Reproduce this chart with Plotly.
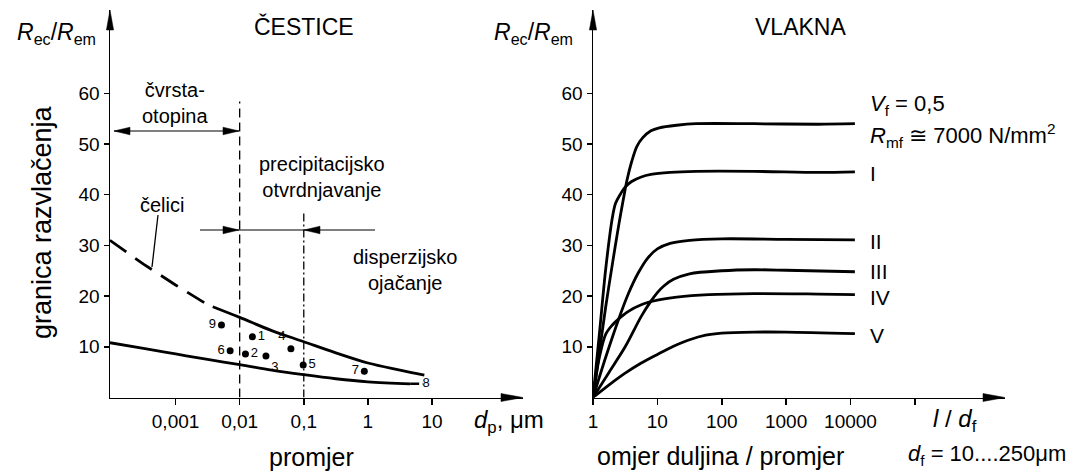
import plotly.graph_objects as go

W, H = 1082, 472

# ---------------- left panel data (ČESTICE) ----------------
celici_dash_dp = [0.0000947, 0.000316, 0.001, 0.00316, 0.0038]
celici_dash_r = [31.0, 26.3, 22.2, 18.3, 17.9]
celici_dp = [0.0038, 0.01, 0.0316, 0.1, 0.316, 1.0, 3.16, 7.6]
celici_r = [17.9, 15.8, 13.2, 11.0, 8.8, 6.8, 5.4, 4.4]
lower_dp = [0.0000947, 0.000316, 0.001, 0.00316, 0.01, 0.0316, 0.1, 0.316, 1.0, 4.57]
lower_r = [10.8, 9.7, 8.6, 7.5, 6.5, 5.4, 4.5, 3.7, 3.1, 2.7]
tail_dp = [4.57, 7.1]
tail_r = [2.7, 2.7]
point_labels = ["1", "2", "3", "4", "5", "6", "7", "9"]
point_dp = [0.0158, 0.0123, 0.0257, 0.063, 0.098, 0.0071, 0.88, 0.0052]
point_r = [12.0, 8.6, 8.2, 9.6, 6.4, 9.2, 5.2, 14.3]
point8_dp = [5.25]
point8_r = [-0.5]
boundary_dp = [0.01, 0.1]
boundary_top = [58.4, 36.9]
left_tickvals = [0.001, 0.01, 0.1, 1, 10]
left_ticktext = ["0,001", "0,01", "0,1", "1", "10"]

# ---------------- right panel data (VLAKNA) ----------------
ld_top = [1, 1.26, 1.58, 2.04, 2.51, 2.95, 3.39, 3.98, 4.79, 5.89, 7.94, 10.7, 20, 39.8, 316, 3160, 11700]
r_top = [0, 9, 18, 27, 34, 39, 43, 46.5, 49.5, 51.2, 52.6, 53.2, 53.7, 54.0, 54.0, 53.9, 54.0]
ld_I = [1, 1.26, 1.58, 2.0, 2.24, 2.63, 3.16, 3.98, 5.62, 7.94, 15.8, 39.8, 316, 3160, 11700]
r_I = [0, 12.7, 25.5, 35.5, 38.3, 40.0, 41.5, 42.6, 43.5, 44.0, 44.4, 44.6, 44.6, 44.4, 44.5]
ld_II = [1, 1.58, 2.51, 3.55, 5.01, 7.08, 10, 15.8, 31.6, 100, 1000, 11700]
r_II = [0, 8, 15.5, 20.5, 24.5, 27.5, 29.3, 30.4, 31.0, 31.3, 31.2, 31.1]
ld_III = [1, 1.78, 3.16, 5.62, 7.94, 10, 12.6, 17.8, 31.6, 100, 316, 1000, 11700]
r_III = [0, 5, 10, 16, 19, 20.7, 22, 23.3, 24.4, 25.0, 25.2, 25.1, 24.8]
ld_IV = [1, 1.26, 1.58, 2.0, 2.51, 3.55, 5.62, 10, 20, 63.1, 316, 3160, 11700]
r_IV = [0, 8, 12.5, 14.3, 15.5, 17, 18.3, 19.2, 19.8, 20.3, 20.5, 20.4, 20.3]
ld_V = [1, 1.78, 3.16, 5.62, 10, 17.8, 31.6, 56.2, 100, 316, 1000, 11700]
r_V = [0, 2.5, 4.8, 6.8, 8.5, 10.1, 11.4, 12.3, 12.7, 12.9, 12.9, 12.6]
curve_names = ["I", "II", "III", "IV", "V"]
right_tickvals = [1, 10, 100, 1000, 10000, 100000]
right_ticktext = ["1", "10", "100", "1000", "10000", ""]
y_tickvals = [10, 20, 30, 40, 50, 60]

# ---------------- geometry (pixels) ----------------
LX = (110, 523)
RX = (593, 1005)
YB, YT = 397.5, 10
FONT = "Liberation Sans, Arial, Helvetica, sans-serif"


def px(x, y):
    return x / W, 1 - y / H


fig = go.Figure()
BLK = "black"

# left panel traces
fig.add_trace(go.Scatter(x=celici_dash_dp, y=celici_dash_r, mode="lines",
                         line=dict(color=BLK, width=2.8, dash="20px,11px"), xaxis="x", yaxis="y"))
fig.add_trace(go.Scatter(x=celici_dp, y=celici_r, mode="lines", line_shape="spline",
                         line=dict(color=BLK, width=2.8), xaxis="x", yaxis="y"))
fig.add_trace(go.Scatter(x=lower_dp, y=lower_r, mode="lines", line_shape="spline",
                         line=dict(color=BLK, width=2.8), xaxis="x", yaxis="y"))
fig.add_trace(go.Scatter(x=tail_dp, y=tail_r, mode="lines+text", text=["", "8"],
                         textposition="middle right", textfont=dict(size=13, color=BLK),
                         line=dict(color=BLK, width=2.5, dash="9px,3px,3px,3px"), xaxis="x", yaxis="y"))
fig.add_trace(go.Scatter(x=[boundary_dp[0]] * 2, y=[0, boundary_top[0]], mode="lines",
                         line=dict(color=BLK, width=1.3, dash="9px,5px"), xaxis="x", yaxis="y"))
fig.add_trace(go.Scatter(x=[boundary_dp[1]] * 2, y=[0, boundary_top[1]], mode="lines",
                         line=dict(color=BLK, width=1.3, dash="8px,3px,2px,3px"), xaxis="x", yaxis="y"))
fig.add_trace(go.Scatter(x=point_dp, y=point_r, mode="markers+text", text=point_labels,
                         textposition=["middle right", "middle right", "bottom right", "top left",
                                       "middle right", "middle left", "middle left", "middle left"],
                         textfont=dict(size=13, color=BLK),
                         marker=dict(color=BLK, size=7), cliponaxis=False, xaxis="x", yaxis="y"))
fig.add_trace(go.Scatter(x=point8_dp, y=point8_r, mode="markers", marker=dict(color=BLK, size=7),
                         cliponaxis=False, xaxis="x", yaxis="y"))

# right panel traces
for lx, ry in [(ld_top, r_top), (ld_I, r_I), (ld_II, r_II), (ld_III, r_III), (ld_IV, r_IV), (ld_V, r_V)]:
    fig.add_trace(go.Scatter(x=lx, y=ry, mode="lines", line_shape="spline",
                             line=dict(color=BLK, width=2.8, smoothing=0.9), xaxis="x2", yaxis="y2"))

ydom = [1 - YB / H, 1 - YT / H]
axis_common = dict(showgrid=False, zeroline=False, showline=True, linecolor=BLK, linewidth=1.5,
                   ticks="outside", tickcolor=BLK, tickwidth=1.5, automargin=False,
                   tickfont=dict(size=19, color=BLK, family=FONT))
fig.update_layout(
    width=W, height=H, margin=dict(l=0, r=0, t=0, b=0),
    paper_bgcolor="white", plot_bgcolor="rgba(0,0,0,0)", showlegend=False,
    template="none", font=dict(family=FONT, color=BLK), hovermode=False,
    xaxis=dict(type="log", domain=[LX[0] / W, LX[1] / W], range=[-4.023, 2.42], anchor="y",
               tickvals=left_tickvals, ticktext=left_ticktext, ticklen=6, **axis_common),
    yaxis=dict(domain=ydom, range=[0, (YB - YT) / 5.07], anchor="x", tickvals=y_tickvals,
               ticklen=5, **axis_common),
    xaxis2=dict(type="log", domain=[RX[0] / W, RX[1] / W], range=[0, 6.40], anchor="y2",
                tickvals=right_tickvals, ticktext=right_ticktext, ticklen=6, **axis_common),
    yaxis2=dict(domain=ydom, range=[0, (YB - YT) / 5.07], anchor="x2", tickvals=y_tickvals,
                ticklen=5, **axis_common),
)

shapes = []


def head(tx, ty, dx, dy, length=18, half=3.8):
    bx, by = tx - dx * length, ty - dy * length
    nx, ny = -dy, dx
    pts = [(tx, ty), (bx + nx * half, by + ny * half), (bx - nx * half, by - ny * half)]
    path = "M " + " L ".join("%.5f,%.5f" % px(x, y) for x, y in pts) + " Z"
    shapes.append(dict(type="path", path=path, xref="paper", yref="paper",
                       fillcolor=BLK, line=dict(color=BLK, width=0.5)))


def seg(x0, y0, x1, y1, w=1.2):
    a, b = px(x0, y0)
    c, d = px(x1, y1)
    shapes.append(dict(type="line", x0=a, y0=b, x1=c, y1=d, xref="paper", yref="paper",
                       line=dict(color=BLK, width=w)))


# axis arrowheads
head(LX[1], YB, 1, 0, 22, 4)
head(LX[0], YT, 0, -1, 20, 3.6)
head(RX[1], YB, 1, 0, 22, 4)
head(RX[0], YT, 0, -1, 20, 3.6)
# čvrsta otopina double arrow
seg(114, 131, 239, 131)
head(114, 131, -1, 0, 16, 3.8)
head(239, 131, 1, 0, 16, 3.8)
# precipitation / dispersion arrows
seg(200, 230, 375, 230)
head(239, 230, 1, 0, 16, 3.8)
head(304, 230, -1, 0, 16, 3.8)
# čelici leader
seg(158, 215, 152, 267, 1.3)
fig.update_layout(shapes=shapes)

anns = []


def text(t, x, y, size, xanchor="center", angle=0):
    a, b = px(x, y)
    anns.append(dict(text=t, x=a, y=b, xref="paper", yref="paper", showarrow=False,
                     xanchor=xanchor, yanchor="middle", textangle=angle,
                     font=dict(size=size, color=BLK, family=FONT)))


text("ČESTICE", 304, 27, 23)
text("VLAKNA", 800, 27, 23)
text("<i>R</i><sub>ec</sub>/<i>R</i><sub>em</sub>", 56, 33, 23)
text("<i>R</i><sub>ec</sub>/<i>R</i><sub>em</sub>", 533, 33, 23)
text("granica razvlačenja", 42, 222, 27, angle=-90)
text("čvrsta-<br>otopina", 175, 103, 20)
text("precipitacijsko<br>otvrdnjavanje", 322, 177, 20)
text("disperzijsko<br>ojačanje", 405, 270, 20)
text("čelici", 162, 205, 20)
text("<i>d</i><sub>p</sub>, μm", 509, 421, 24)
text("promjer", 311, 457, 25)
text("<i>l</i> / <i>d</i><sub>f</sub>", 955, 420, 24)
text("omjer duljina / promjer", 720, 456, 25)
text("<i>d</i><sub>f</sub> = 10....250μm", 987, 455, 22)
text("<i>V</i><sub>f</sub> = 0,5", 868, 105, 22, xanchor="left")
text("<i>R</i><sub>mf</sub> ≅ 7000 N/mm<sup>2</sup>", 868, 135, 22, xanchor="left")
for name, yy in zip(curve_names, [173, 241, 271, 297, 335]):
    text(name, 868, yy, 21, xanchor="left")
fig.update_layout(annotations=anns)

fig.write_html("out.html", config={"displayModeBar": False, "staticPlot": True},
               post_script="document.body.style.margin='0';document.body.style.padding='0';"
                           "document.documentElement.style.overflow='hidden';")
